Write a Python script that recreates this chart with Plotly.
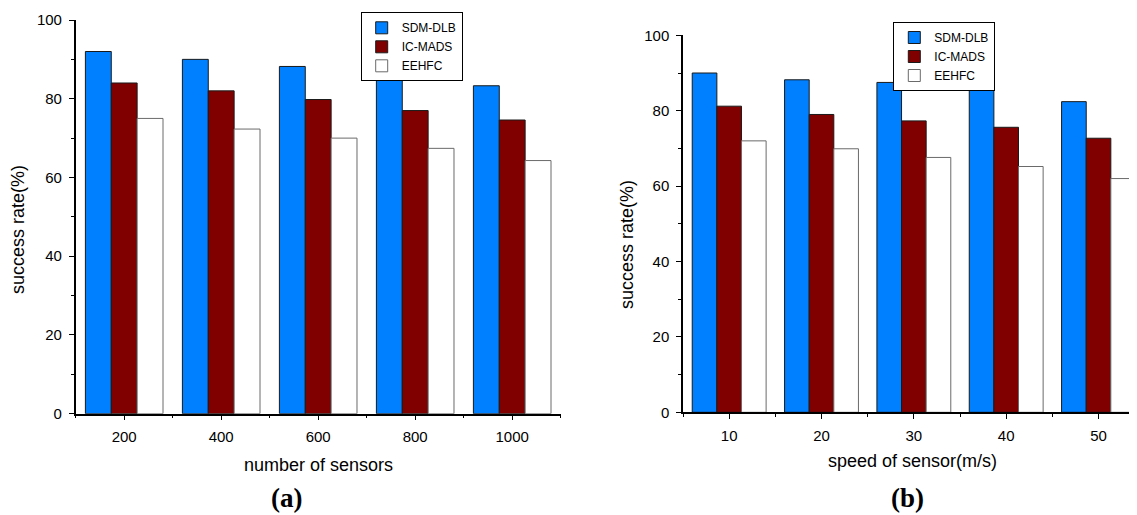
import plotly.graph_objects as go

# ---- data ----
series_names = ["SDM-DLB", "IC-MADS", "EEHFC"]
series_colors = ["#0080FF", "#800000", "#FFFFFF"]
series_lines = ["#1a1a1a", "#1a1a1a", "#6a6a6a"]

sensors = [200, 400, 600, 800, 1000]
a_sdm = [92.0, 90.0, 88.2, 85.6, 83.3]
a_ic = [84.0, 82.0, 79.8, 77.0, 74.6]
a_ee = [75.0, 72.3, 70.0, 67.4, 64.3]

speeds = [10, 20, 30, 40, 50]
b_sdm = [90.0, 88.2, 87.5, 85.7, 82.4]
b_ic = [81.2, 79.0, 77.3, 75.6, 72.7]
b_ee = [72.0, 69.9, 67.6, 65.2, 62.0]

y_ticks = [0, 20, 40, 60, 80, 100]

W, H = 1137, 515
OFF = 8  # page body margin offset


def px(xpix):
    return (xpix - OFF) / W


def py(ypix):
    return 1 - (ypix - OFF) / H


fig = go.Figure()

for name, col, lc, vals in zip(series_names, series_colors, series_lines, [a_sdm, a_ic, a_ee]):
    fig.add_trace(go.Bar(x=sensors, y=vals, name=name, marker=dict(color=col, line=dict(color=lc, width=1)),
                         xaxis="x", yaxis="y", legend="legend", offsetgroup=name))
for name, col, lc, vals in zip(series_names, series_colors, series_lines, [b_sdm, b_ic, b_ee]):
    fig.add_trace(go.Bar(x=speeds, y=vals, name=name, marker=dict(color=col, line=dict(color=lc, width=1)),
                         xaxis="x2", yaxis="y2", legend="legend2", offsetgroup=name))

font = "Liberation Sans, Arial, sans-serif"
axis_common = dict(showline=True, linecolor="black", linewidth=1.5, showgrid=False, zeroline=False,
                   ticks="outside", ticklen=5, tickwidth=1.3, tickcolor="black",
                   tickfont=dict(family=font, size=15, color="black"), ticklabelstandoff=4)
minor_common = dict(ticks="outside", ticklen=3, tickcolor="black", tickwidth=1.3)

legend_common = dict(xanchor="left", yanchor="top", bordercolor="black", borderwidth=1, bgcolor="white",
                     font=dict(family=font, size=12, color="black"), tracegroupgap=0,
                     entrywidth=76, entrywidthmode="pixels")

fig.update_layout(
    width=W, height=H,
    margin=dict(l=0, r=0, t=0, b=0, autoexpand=False),
    paper_bgcolor="white", plot_bgcolor="white",
    barmode="group", bargap=0.2, bargroupgap=0,
    xaxis=dict(domain=[px(75.7), px(560.7)], range=[100, 1100], tickvals=sensors,
               minor=dict(tickvals=[100, 300, 500, 700, 900, 1100], **minor_common),
               anchor="y", **axis_common),
    yaxis=dict(domain=[py(413.7), py(20)], range=[0, 100], tickvals=y_ticks,
               minor=dict(dtick=10, **minor_common), anchor="x", **axis_common),
    xaxis2=dict(domain=[px(683), min(1.0, px(1144.7))], range=[5, 55], tickvals=speeds,
                minor=dict(tickvals=[5, 15, 25, 35, 45, 55], **minor_common),
                anchor="y2", **axis_common),
    yaxis2=dict(domain=[py(412.3), py(35.3)], range=[0, 100], tickvals=y_ticks,
                minor=dict(dtick=10, **minor_common), anchor="x2", **axis_common),
    legend=dict(x=px(360.7), y=py(12.3), **legend_common),
    legend2=dict(x=px(893.3), y=py(22), **legend_common),
    showlegend=True,
)

annots = [
    dict(text="success rate(%)", x=18, y=230, textangle=-90, size=18, fam=font),
    dict(text="success rate(%)", x=627, y=245, textangle=-90, size=18, fam=font),
    dict(text="number of sensors", x=318, y=465, textangle=0, size=18, fam=font),
    dict(text="speed of sensor(m/s)", x=912, y=461, textangle=0, size=18, fam=font),
    dict(text="<b>(a)</b>", x=286, y=498, textangle=0, size=27, fam="Liberation Serif, Times New Roman, serif"),
    dict(text="<b>(b)</b>", x=907, y=498, textangle=0, size=27, fam="Liberation Serif, Times New Roman, serif"),
]
for a in annots:
    fig.add_annotation(text=a["text"], x=px(a["x"]), y=py(a["y"]), xref="paper", yref="paper",
                       xanchor="center", yanchor="middle", showarrow=False, textangle=a["textangle"],
                       font=dict(family=a["fam"], size=a["size"], color="black"))

fig.write_html("out.html")
